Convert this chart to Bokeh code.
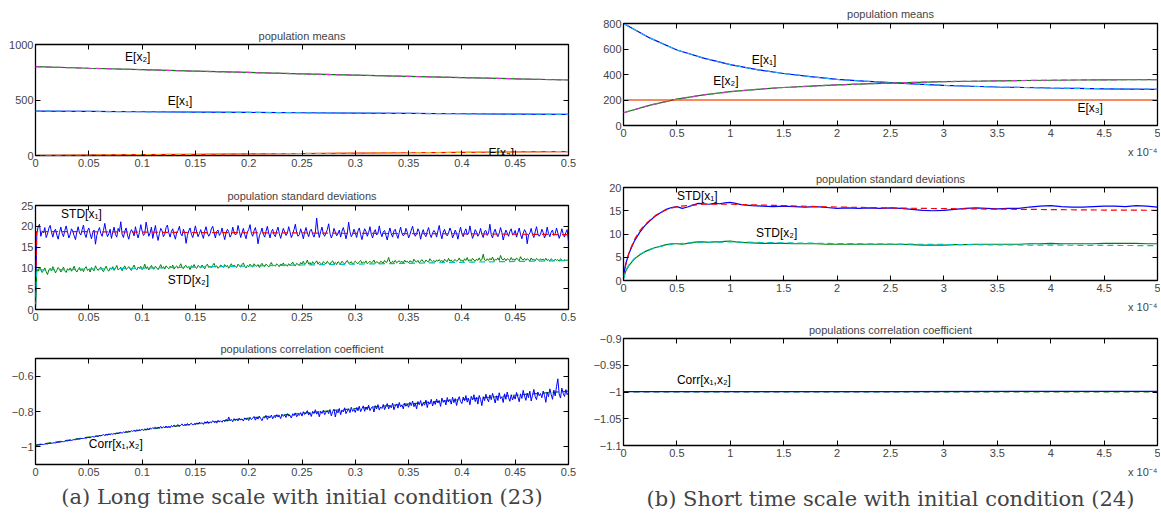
import numpy as np
from bokeh.plotting import figure
from bokeh.layouts import row, column
from bokeh.models import Range1d, LinearAxis, FixedTicker, Title, Label
from bokeh.embed import file_html
from bokeh.resources import INLINE

# ------------------------------------------------------------------ data
# (a) long time scale -------------------------------------------------
t_long = [0, 0.05, 0.1, 0.15, 0.2, 0.25, 0.3, 0.35, 0.4, 0.45, 0.5]
mean_x1_long = [400, 397, 394, 391, 388, 385, 382, 379, 376, 373, 370]
mean_x2_long = [800, 786, 773, 760, 748, 736, 724, 713, 702, 691, 680]
mean_x3_long = [0, 4, 8, 11, 15, 18, 22, 25, 28, 32, 35]

std_x1_sim_long = [
    1.0, 18.2, 19.9, 20.5, 17.6, 18.9, 18.4, 19.7, 17.3, 18.1, 19.5, 20.2, 18.6, 17.4, 18.8, 19.3, 17.9, 16.9, 18.5, 19.8,
    18.3, 17.5, 19.0, 20.1, 18.7, 17.2, 18.0, 19.4, 18.8, 17.7, 16.8, 18.6, 19.9, 18.4, 17.9, 19.2, 20.3, 18.1, 17.3, 18.9,
    19.6, 18.2, 17.0, 18.5, 19.1, 15.7, 17.8, 18.9, 19.7, 18.3, 17.6, 19.0, 20.7, 18.8, 17.5, 18.2, 19.3, 17.1, 18.6, 19.8,
    18.0, 17.4, 19.5, 18.7, 21.1, 18.1, 17.3, 18.8, 19.6, 17.9, 16.9, 18.4, 19.2, 18.6, 17.7, 19.9, 18.3, 17.2, 18.5, 20.4,
    18.9, 17.8, 18.2, 21.0, 19.3, 17.6, 18.4, 19.8, 17.1, 18.7, 20.2, 18.0, 16.6, 18.3, 19.5, 18.9, 17.5, 18.1, 19.7, 20.3,
    18.5, 17.4, 18.8, 19.4, 17.9, 16.9, 18.6, 19.0, 20.0, 18.2, 17.7, 19.3, 18.4, 15.9, 17.8, 18.9, 19.6, 18.1, 17.3, 18.7,
    20.1, 18.6, 17.5, 18.3, 19.2, 18.0, 17.1, 18.9, 19.9, 18.4, 17.6, 18.2, 19.4, 20.0, 18.5, 17.2, 18.8, 19.1, 17.8, 18.3,
    19.6, 18.1, 16.8, 18.4, 19.3, 18.7, 17.4, 18.0, 19.8, 18.6, 17.9, 18.3, 20.2, 18.8, 17.3, 18.5, 19.5, 18.0, 17.0, 18.6,
    19.2, 20.4, 18.3, 17.6, 18.9, 19.7, 18.2, 15.8, 17.7, 18.5, 19.6, 18.1, 17.4, 18.8, 20.0, 18.4, 17.2, 18.7, 19.3, 18.0,
    17.5, 18.9, 19.8, 18.2, 17.1, 18.4, 19.5, 18.6, 17.8, 18.3, 19.9, 18.7, 17.3, 18.1, 19.2, 20.5, 18.5, 17.6, 18.0, 19.4,
    18.3, 17.0, 18.6, 19.7, 18.4, 17.5, 18.9, 19.3, 18.1, 17.4, 18.5, 22.0, 19.0, 17.3, 18.7, 19.8, 18.2, 17.6, 18.4, 19.2,
    20.6, 18.3, 17.2, 18.0, 19.5, 18.6, 17.7, 18.2, 19.1, 17.4, 18.8, 19.7, 18.5, 17.0, 18.3, 21.0, 18.7, 17.5, 18.1, 19.3,
    18.4, 17.3, 18.9, 19.6, 18.0, 16.8, 18.2, 19.4, 18.8, 17.6, 18.5, 19.9, 18.1, 17.2, 18.6, 19.2, 17.9, 18.3, 20.1, 18.4,
    17.5, 18.7, 19.0, 17.8, 16.7, 18.4, 19.6, 18.2, 17.4, 18.9, 19.3, 18.0, 17.1, 18.5, 19.8, 18.3, 17.7, 18.1, 19.5, 18.6,
    17.2, 18.0, 19.1, 20.0, 18.4, 17.6, 18.2, 19.4, 18.7, 16.9, 18.3, 19.2, 18.0, 17.5, 18.8, 19.7, 18.1, 17.3, 18.4, 19.0,
    18.5, 17.4, 18.9, 20.2, 18.2, 17.0, 18.6, 19.3, 18.1, 17.7, 18.4, 19.6, 18.8, 17.2, 18.0, 19.1, 18.3, 16.9, 18.5, 19.8,
    18.2, 17.5, 18.7, 19.4, 17.9, 18.3, 20.1, 18.4, 17.1, 18.0, 19.2, 18.6, 17.6, 18.2, 19.5, 18.1, 17.3, 18.8, 19.0, 17.8,
    18.4, 20.5, 18.0, 17.2, 18.6, 19.3, 18.1, 17.5, 18.3, 19.7, 18.5, 16.7, 18.0, 19.1, 18.4, 17.6, 18.8, 19.4, 17.9, 18.2,
    19.0, 17.4, 18.5, 19.6, 18.1, 17.0, 18.3, 19.2, 18.6, 15.8, 17.9, 18.4, 19.5, 18.0, 17.3, 18.7, 19.9, 18.2, 17.6, 18.1,
    19.3, 18.5, 17.2, 18.0, 19.8, 18.3, 17.5, 18.6, 19.1, 17.8, 18.2, 19.6, 18.4, 17.1, 18.0, 19.4, 18.2, 17.4, 18.5, 19.2,
    16.3]
std_x2_sim_long = [
    0.5, 9.7, 9.2, 10.2, 9.6, 8.9, 9.4, 10.0, 9.1, 8.4, 9.5, 9.9, 9.3, 10.3, 9.6, 8.8, 9.4, 10.1, 9.7, 9.0,
    9.5, 10.2, 9.3, 8.9, 9.8, 9.4, 10.0, 9.2, 9.7, 10.4, 9.5, 9.0, 9.6, 10.1, 9.3, 9.8, 9.1, 9.9, 10.3, 9.4,
    9.7, 9.0, 10.1, 9.6, 9.3, 10.5, 9.8, 9.4, 9.9, 10.2, 9.5, 9.1, 9.8, 10.4, 9.6, 9.2, 10.0, 9.7, 10.3, 9.4,
    9.9, 10.6, 9.5, 9.8, 10.2, 9.3, 10.0, 10.5, 9.6, 9.9, 10.3, 9.7, 9.4, 10.1, 10.7, 9.8, 9.5, 10.2, 9.9, 10.4,
    9.6, 10.0, 10.9, 9.8, 10.3, 9.5, 10.1, 10.6, 9.9, 9.7, 10.4, 10.0, 9.6, 10.2, 10.8, 9.9, 10.3, 9.7, 10.5, 10.1,
    9.8, 10.4, 10.0, 10.7, 9.7, 10.2, 10.5, 9.9, 10.3, 11.0, 10.1, 9.8, 10.4, 10.6, 10.0, 10.3, 9.6, 10.5, 10.2, 10.8,
    10.1, 9.9, 10.6, 10.3, 10.0, 10.7, 10.2, 9.8, 10.5, 10.9, 10.1, 10.4, 10.0, 10.6, 11.1, 10.2, 10.5, 9.9, 10.3, 10.7,
    10.4, 10.1, 10.8, 10.3, 10.6, 9.9, 10.5, 11.0, 10.2, 10.7, 10.4, 10.1, 10.9, 10.5, 10.2, 10.8, 11.2, 10.4, 10.0, 10.6,
    10.3, 10.9, 10.5, 10.2, 11.0, 10.6, 10.4, 10.8, 10.1, 10.7, 11.1, 10.5, 10.3, 10.9, 10.6, 10.2, 10.8, 11.3, 10.5, 10.7,
    10.4, 11.0, 10.6, 10.3, 10.9, 10.7, 11.2, 10.5, 10.8, 10.4, 11.0, 10.6, 10.9, 11.4, 10.7, 10.5, 11.1, 10.8, 10.6, 11.3,
    10.9, 11.6, 10.8, 11.1, 11.9, 10.9, 11.3, 10.7, 11.5, 11.0, 11.2, 11.7, 10.9, 11.4, 11.1, 10.8, 11.5, 11.2, 11.0, 11.6,
    11.1, 10.9, 11.4, 11.7, 11.0, 11.3, 10.8, 11.5, 11.2, 11.0, 11.6, 11.3, 10.9, 11.4, 11.8, 11.1, 11.2, 11.5, 10.9, 11.3,
    11.6, 11.2, 11.0, 11.5, 11.8, 11.1, 11.4, 11.2, 11.7, 11.0, 11.3, 11.6, 11.2, 11.4, 11.9, 11.1, 11.5, 11.3, 11.0, 11.6,
    11.4, 11.2, 11.8, 11.3, 11.5, 12.5, 11.4, 11.1, 11.6, 11.3, 11.8, 11.2, 11.5, 11.7, 11.3, 11.6, 11.1, 11.9, 11.4, 11.6,
    11.2, 11.7, 11.5, 11.3, 12.1, 11.6, 11.4, 11.8, 11.2, 11.6, 12.0, 11.5, 11.3, 11.9, 11.6, 11.4, 12.2, 11.7, 11.5, 11.8,
    11.4, 11.9, 11.6, 12.0, 11.5, 11.8, 11.3, 12.1, 11.7, 11.5, 12.3, 11.6, 11.9, 11.4, 11.8, 12.0, 11.6, 11.8, 12.4, 11.7,
    11.9, 11.5, 12.2, 11.8, 12.5, 11.6, 12.0, 11.7, 12.3, 11.9, 11.6, 12.1, 11.8, 12.4, 11.7, 12.0, 13.3, 11.9, 11.7, 12.2,
    11.8, 12.3, 11.9, 12.6, 11.7, 12.0, 11.9, 12.4, 11.8, 13.0, 12.1, 11.9, 12.3, 11.7, 12.2, 12.0, 11.8, 12.5, 11.9, 12.1,
    11.8, 12.4, 12.0, 11.7, 12.7, 12.1, 11.9, 12.3, 11.8, 12.2, 12.0, 11.6, 12.4, 11.9, 12.1, 11.7, 12.3, 12.0, 11.8, 12.2,
    11.9, 12.1, 11.7, 12.3, 11.8, 12.0, 11.6, 12.2, 11.9, 11.7, 12.1, 11.8, 12.0, 11.6, 12.2, 11.9, 11.7, 12.0, 11.8, 11.9,
    11.7]
t_std_th_long = [0, 0.001, 0.05, 0.1, 0.15, 0.2, 0.25, 0.3, 0.35, 0.4, 0.45, 0.5]
std_x1_th_long = [0.8, 18.7, 18.7, 18.6, 18.5, 18.45, 18.4, 18.3, 18.25, 18.2, 18.1, 18.0]
std_x2_th_long = [0.5, 9.5, 9.7, 9.95, 10.2, 10.45, 10.7, 10.9, 11.1, 11.35, 11.55, 11.75]

corr_sim_long = [
    -0.992, -0.991, -0.989, -0.990, -0.987, -0.986, -0.987, -0.984, -0.983, -0.984, -0.981, -0.980, -0.981, -0.978, -0.977, -0.978, -0.975, -0.974, -0.975, -0.972,
    -0.970, -0.971, -0.968, -0.966, -0.967, -0.964, -0.963, -0.964, -0.961, -0.959, -0.960, -0.957, -0.956, -0.957, -0.954, -0.952, -0.953, -0.950, -0.951, -0.948,
    -0.947, -0.949, -0.944, -0.942, -0.945, -0.940, -0.939, -0.942, -0.936, -0.938, -0.934, -0.931, -0.936, -0.930, -0.933, -0.928, -0.931, -0.926, -0.929, -0.925,
    -0.927, -0.922, -0.925, -0.920, -0.918, -0.923, -0.916, -0.919, -0.913, -0.917, -0.911, -0.914, -0.909, -0.913, -0.906, -0.911, -0.904, -0.908, -0.903, -0.907,
    -0.900, -0.908, -0.898, -0.904, -0.895, -0.902, -0.893, -0.899, -0.891, -0.897, -0.887, -0.896, -0.889, -0.893, -0.884, -0.895, -0.886, -0.891, -0.882, -0.890,
    -0.884, -0.892, -0.879, -0.888, -0.876, -0.886, -0.880, -0.874, -0.885, -0.877, -0.870, -0.882, -0.873, -0.879, -0.868, -0.878, -0.872, -0.866, -0.877, -0.869,
    -0.874, -0.864, -0.872, -0.860, -0.869, -0.863, -0.873, -0.858, -0.866, -0.855, -0.868, -0.859, -0.864, -0.852, -0.862, -0.856, -0.866, -0.850, -0.859, -0.853,
    -0.861, -0.848, -0.857, -0.844, -0.855, -0.831, -0.852, -0.845, -0.858, -0.840, -0.850, -0.843, -0.853, -0.837, -0.848, -0.842, -0.854, -0.836, -0.846, -0.840,
    -0.851, -0.833, -0.846, -0.838, -0.828, -0.849, -0.834, -0.843, -0.826, -0.840, -0.852, -0.831, -0.837, -0.822, -0.845, -0.829, -0.836, -0.820, -0.841, -0.827,
    -0.835, -0.818, -0.831, -0.824, -0.840, -0.815, -0.828, -0.819, -0.834, -0.812, -0.826, -0.821, -0.837, -0.813, -0.824, -0.808, -0.830, -0.816, -0.822, -0.806,
    -0.826, -0.801, -0.817, -0.809, -0.795, -0.820, -0.806, -0.828, -0.799, -0.812, -0.790, -0.815, -0.803, -0.830, -0.798, -0.811, -0.793, -0.818, -0.804, -0.796,
    -0.812, -0.789, -0.825, -0.800, -0.787, -0.831, -0.795, -0.808, -0.783, -0.818, -0.791, -0.803, -0.779, -0.812, -0.797, -0.785, -0.806, -0.776, -0.799, -0.788,
    -0.805, -0.778, -0.796, -0.770, -0.801, -0.784, -0.768, -0.799, -0.776, -0.790, -0.764, -0.795, -0.780, -0.772, -0.803, -0.767, -0.786, -0.761, -0.792, -0.774,
    -0.783, -0.760, -0.789, -0.771, -0.755, -0.786, -0.764, -0.779, -0.752, -0.790, -0.768, -0.757, -0.781, -0.749, -0.774, -0.762, -0.785, -0.753, -0.770, -0.759,
    -0.776, -0.748, -0.767, -0.741, -0.773, -0.755, -0.785, -0.744, -0.762, -0.738, -0.770, -0.750, -0.764, -0.735, -0.778, -0.746, -0.758, -0.731, -0.769, -0.742,
    -0.760, -0.729, -0.752, -0.738, -0.771, -0.724, -0.748, -0.736, -0.763, -0.721, -0.745, -0.731, -0.758, -0.719, -0.750, -0.727, -0.766, -0.733, -0.716, -0.744,
    -0.755, -0.718, -0.740, -0.710, -0.747, -0.726, -0.762, -0.714, -0.735, -0.705, -0.744, -0.721, -0.758, -0.709, -0.731, -0.767, -0.716, -0.739, -0.702, -0.728,
    -0.745, -0.706, -0.733, -0.697, -0.724, -0.752, -0.711, -0.738, -0.694, -0.727, -0.716, -0.749, -0.700, -0.731, -0.690, -0.721, -0.742, -0.705, -0.735, -0.712,
    -0.730, -0.692, -0.718, -0.745, -0.700, -0.726, -0.680, -0.713, -0.737, -0.696, -0.722, -0.685, -0.741, -0.708, -0.675, -0.716, -0.733, -0.690, -0.711, -0.698,
    -0.722, -0.684, -0.709, -0.748, -0.690, -0.716, -0.672, -0.703, -0.731, -0.679, -0.712, -0.660, -0.615, -0.701, -0.724, -0.668, -0.697, -0.715, -0.676, -0.705,
    -0.692]
corr_th_long = [-0.99, -0.945, -0.905, -0.870, -0.838, -0.810, -0.783, -0.757, -0.732, -0.708, -0.685]

# sampling grids of the simulated (noisy) curves
t_std1_long = np.linspace(0, 0.5, len(std_x1_sim_long))
t_std2_long = np.linspace(0, 0.5, len(std_x2_sim_long))
t_corr_long = np.linspace(0, 0.5, len(corr_sim_long))

# (b) short time scale (time in units of 1e-4) ------------------------
t_short = [0, 0.25, 0.5, 0.75, 1, 1.25, 1.5, 1.75, 2, 2.25, 2.5, 2.75, 3, 3.25, 3.5, 3.75, 4, 4.25, 4.5, 4.75, 5]
mean_x1_short = [800, 685, 592, 528, 477, 438, 408, 383, 362, 348, 336, 325, 315, 308, 302, 298, 294, 291, 288, 286, 284]
mean_x2_short = [100, 160, 207, 240, 265, 284, 298, 309, 318, 326, 333, 339, 344, 347, 350, 353, 355, 357, 358, 359, 360]
mean_x3_short = [200, 200, 200, 200, 200, 200, 200, 200, 200, 200, 200, 200, 200, 200, 200, 200, 200, 200, 200, 200, 200]

t_std_sim_short = [0, 0.02, 0.05, 0.1, 0.15, 0.2, 0.25, 0.3, 0.35, 0.4, 0.45,
                   0.5, 0.55, 0.6, 0.65, 0.7, 0.75, 0.8, 0.85, 0.9, 0.95, 1.0, 1.05, 1.1,
                   1.2, 1.3, 1.4, 1.5, 1.6, 1.7, 1.8, 1.9, 2.0, 2.1, 2.2, 2.3, 2.4, 2.5, 2.6, 2.7, 2.8, 2.9,
                   3.0, 3.1, 3.2, 3.3, 3.4, 3.5, 3.6, 3.7, 3.8, 3.9, 4.0, 4.1, 4.2, 4.3, 4.4, 4.5, 4.6, 4.7,
                   4.8, 4.9, 5.0]
std_x1_sim_short = [1.0, 3.5, 5.8, 8.4, 10.3, 11.8, 12.9, 13.9, 14.6, 15.3, 15.7,
                    15.9, 15.5, 15.8, 16.2, 16.6, 16.5, 16.4, 16.6, 16.5, 16.7, 16.8, 16.6, 16.3,
                    16.1, 16.0, 15.9, 16.0, 15.9, 15.8, 15.9, 15.7, 15.5, 15.6, 15.5, 15.6, 15.5, 15.6, 15.5, 15.3, 15.1, 15.0,
                    15.1, 15.3, 15.5, 15.6, 15.5, 15.4, 15.5, 15.5, 15.8, 16.0, 16.1, 15.9, 15.8, 15.8, 15.9, 16.0, 16.0, 15.9,
                    16.1, 16.0, 15.8]
std_x2_sim_short = [0.5, 2.0, 3.2, 4.6, 5.5, 6.2, 6.7, 7.1, 7.4, 7.7, 7.9,
                    7.9, 7.8, 8.0, 8.2, 8.3, 8.3, 8.2, 8.3, 8.3, 8.4, 8.5, 8.3, 8.2,
                    8.1, 8.0, 8.0, 8.0, 7.9, 7.9, 7.9, 7.8, 7.8, 7.8, 7.8, 7.8, 7.8, 7.8, 7.8, 7.7, 7.6, 7.6,
                    7.6, 7.7, 7.7, 7.8, 7.8, 7.8, 7.8, 7.8, 7.9, 7.9, 8.0, 7.9, 7.9, 7.9, 7.9, 8.0, 8.0, 8.0,
                    8.0, 7.9, 7.9]
t_std_th_short = [0, 0.02, 0.05, 0.1, 0.15, 0.2, 0.3, 0.4, 0.5, 0.75, 1.0, 1.5, 2.0, 2.5, 3.0, 3.5, 4.0, 4.5, 5.0]
std_x1_th_short = [0.5, 3.2, 5.9, 8.7, 10.6, 12.0, 14.0, 15.2, 15.9, 16.4, 16.4, 16.1, 15.8, 15.6, 15.45, 15.35, 15.25, 15.15, 15.1]
std_x2_th_short = [0.3, 2.1, 3.3, 4.7, 5.6, 6.2, 7.1, 7.6, 7.9, 8.2, 8.3, 8.1, 7.95, 7.85, 7.75, 7.65, 7.6, 7.55, 7.5]

t_corr_short = [0, 2.5, 5]
corr_sim_short = [-0.9992, -0.9992, -0.9988]
corr_th_short = [-1.0, -1.0, -1.0]

# ticks -----------------------------------------------------------------
xt_long = [0, 0.05, 0.1, 0.15, 0.2, 0.25, 0.3, 0.35, 0.4, 0.45, 0.5]
xl_long = ["0", "0.05", "0.1", "0.15", "0.2", "0.25", "0.3", "0.35", "0.4", "0.45", "0.5"]
xt_short = [0, 0.5, 1, 1.5, 2, 2.5, 3, 3.5, 4, 4.5, 5]
xl_short = ["0", "0.5", "1", "1.5", "2", "2.5", "3", "3.5", "4", "4.5", "5"]
yt_mean_long = [0, 500, 1000]
yl_mean_long = ["0", "500", "1000"]
yt_std_long = [0, 5, 10, 15, 20, 25]
yl_std_long = ["0", "5", "10", "15", "20", "25"]
yt_corr_long = [-1, -0.8, -0.6]
yl_corr_long = ["\u22121", "\u22120.8", "\u22120.6"]
yt_mean_short = [0, 200, 400, 600, 800]
yl_mean_short = ["0", "200", "400", "600", "800"]
yt_std_short = [0, 5, 10, 15, 20]
yl_std_short = ["0", "5", "10", "15", "20"]
yt_corr_short = [-1.1, -1.05, -1, -0.95, -0.9]
yl_corr_short = ["\u22121.1", "\u22121.05", "\u22121", "\u22120.95", "\u22120.9"]

# ------------------------------------------------------------------ style
SANS = "Liberation Sans"
SERIF = "DejaVu Serif"
BLUE, CYAN = "#0000ff", "#1fb4e6"
GREEN, MAGENTA = "#008000", "#c040c0"
RED, ORANGE = "#ff0000", "#e8a818"
TEAL = "#00bfbf"
DASH = "6 4"


def make(width, height, xr, yr, xt, xl, yt, yl, borders, title, standoff):
    left, right, top, bottom = borders
    p = figure(width=width, height=height, x_range=Range1d(*xr), y_range=Range1d(*yr),
               output_backend="svg", toolbar_location=None,
               min_border_left=left, min_border_right=right,
               min_border_top=top, min_border_bottom=bottom)
    p.title.text = title
    p.title.align = "center"
    p.title.text_font = SANS
    p.title.text_font_size = "11px"
    p.title.text_font_style = "normal"
    p.title.standoff = standoff
    p.grid.visible = False
    p.outline_line_color = "black"
    p.outline_line_width = 1.3
    p.outline_line_alpha = 1.0
    p.background_fill_color = "white"
    p.border_fill_color = "white"
    for ax, ticks, labels in ((p.xaxis[0], xt, xl), (p.yaxis[0], yt, yl)):
        ax.ticker = FixedTicker(ticks=ticks)
        ax.major_label_overrides = dict(zip(ticks, labels))
        ax.major_tick_in = 5
        ax.major_tick_out = 0
        ax.minor_tick_in = 0
        ax.minor_tick_out = 0
        ax.axis_line_color = None
        ax.major_label_text_font = SANS
        ax.major_label_text_font_size = "11px"
        ax.major_label_standoff = 3 if ax is p.xaxis[0] else 2
    for loc, ticks in (("above", xt), ("right", yt)):
        ax = LinearAxis(ticker=FixedTicker(ticks=ticks),
                        major_label_overrides={t: "" for t in ticks},
                        major_label_text_font_size="0px", major_label_standoff=0,
                        major_tick_in=5, major_tick_out=0, minor_tick_in=0, minor_tick_out=0,
                        axis_line_color=None)
        p.add_layout(ax, loc)
    return p


def lab(p, x, y, text):
    p.add_layout(Label(x=x, y=y, text=text, text_font=SANS, text_font_size="12px",
                       text_baseline="middle", text_align="left", text_color="black"))


def note(p, standoff):
    p.add_layout(Title(text="x 10\u207b\u2074", align="right", text_font=SANS,
                       text_font_size="11px", text_font_style="normal", standoff=standoff), "below")


def caption(p, text, offset, standoff):
    p.add_layout(Title(text=text, align="center", offset=offset, text_font=SERIF,
                       text_font_size="21px", text_font_style="normal", standoff=standoff), "below")


# ------------------------------------------------------------ left column
LW = 590
L1 = make(LW, 178, (0, 0.5), (0, 1000), xt_long, xl_long, yt_mean_long, yl_mean_long,
          (35, 22, 44, 23), "population means", 5)
L1.line(t_long, mean_x2_long, color=GREEN, line_width=1.2)
L1.line(t_long, mean_x2_long, color=MAGENTA, line_width=1.2, line_dash=DASH)
L1.line(t_long, mean_x1_long, color=BLUE, line_width=1.2)
L1.line(t_long, mean_x1_long, color=CYAN, line_width=1.2, line_dash=DASH)
L1.line(t_long, mean_x3_long, color=RED, line_width=1.2)
L1.line(t_long, mean_x3_long, color=ORANGE, line_width=1.2, line_dash=DASH)
lab(L1, 0.084, 885, "E[x\u2082]")
lab(L1, 0.124, 495, "E[x\u2081]")
lab(L1, 0.425, 25, "E[x\u2083]")

L2 = make(LW, 155, (0, 0.5), (0, 25), xt_long, xl_long, yt_std_long, yl_std_long,
          (35, 22, 27, 24), "population standard deviations", 8)
L2.line(t_std1_long, std_x1_sim_long, color=BLUE, line_width=1.0)
L2.line(t_std_th_long, std_x1_th_long, color=RED, line_width=1.2, line_dash=DASH)
L2.line(t_std2_long, std_x2_sim_long, color=GREEN, line_width=1.0)
L2.line(t_std_th_long, std_x2_th_long, color=TEAL, line_width=1.2, line_dash=DASH)
lab(L2, 0.024, 23.0, "STD[x\u2081]")
lab(L2, 0.124, 7.2, "STD[x\u2082]")

L3 = make(LW, 180, (0, 0.5), (-1.1, -0.5), xt_long, xl_long, yt_corr_long, yl_corr_long,
          (35, 22, 25, 49), "populations correlation coefficient", 7)
L3.line(t_long, corr_th_long, color=GREEN, line_width=1.2, line_dash=DASH)
L3.line(t_corr_long, corr_sim_long, color=BLUE, line_width=1.0)
lab(L3, 0.05, -0.982, "Corr[x\u2081,x\u2082]")
caption(L3, "(a) Long time scale with initial condition (23)", -11, 8)

# ----------------------------------------------------------- right column
RW = 570
R1 = make(RW, 168, (0, 5), (0, 800), xt_short, xl_short, yt_mean_short, yl_mean_short,
          (33, 3, 23, 43), "population means", 7)
R1.line(t_short, mean_x1_short, color=BLUE, line_width=1.2)
R1.line(t_short, mean_x1_short, color=CYAN, line_width=1.2, line_dash=DASH)
R1.line(t_short, mean_x2_short, color=GREEN, line_width=1.2)
R1.line(t_short, mean_x2_short, color=MAGENTA, line_width=1.2, line_dash=DASH)
R1.line(t_short, mean_x3_short, color=RED, line_width=1.2)
R1.line(t_short, mean_x3_short, color=ORANGE, line_width=1.2, line_dash=DASH)
lab(R1, 1.2, 515, "E[x\u2081]")
lab(R1, 0.84, 346, "E[x\u2082]")
lab(R1, 4.25, 140, "E[x\u2083]")
note(R1, 9)

R2 = make(RW, 150, (0, 5), (0, 20), xt_short, xl_short, yt_std_short, yl_std_short,
          (33, 3, 14, 38), "population standard deviations", 5)
R2.line(t_std_sim_short, std_x1_sim_short, color=BLUE, line_width=1.2)
R2.line(t_std_th_short, std_x1_th_short, color=RED, line_width=1.2, line_dash=DASH)
R2.line(t_std_sim_short, std_x2_sim_short, color=GREEN, line_width=1.2)
R2.line(t_std_th_short, std_x2_th_short, color=TEAL, line_width=1.2, line_dash=DASH)
lab(R2, 0.5, 18.2, "STD[x\u2081]")
lab(R2, 1.24, 10.3, "STD[x\u2082]")
note(R2, 9)

R3 = make(RW, 195, (0, 5), (-1.1, -0.9), xt_short, xl_short, yt_corr_short, yl_corr_short,
          (33, 3, 20, 68), "populations correlation coefficient", 5)
R3.line(t_corr_short, corr_th_short, color=GREEN, line_width=1.2, line_dash=DASH)
R3.line(t_corr_short, corr_sim_short, color=BLUE, line_width=1.2)
lab(R3, 0.5, -0.978, "Corr[x\u2081,x\u2082]")
note(R3, 8)
caption(R3, "(b) Short time scale with initial condition (24)", -14, 6)

layout = row(column(L1, L2, L3, spacing=0), column(R1, R2, R3, spacing=0), spacing=0)

with open("out.html", "w") as f:
    f.write(file_html(layout, INLINE))
